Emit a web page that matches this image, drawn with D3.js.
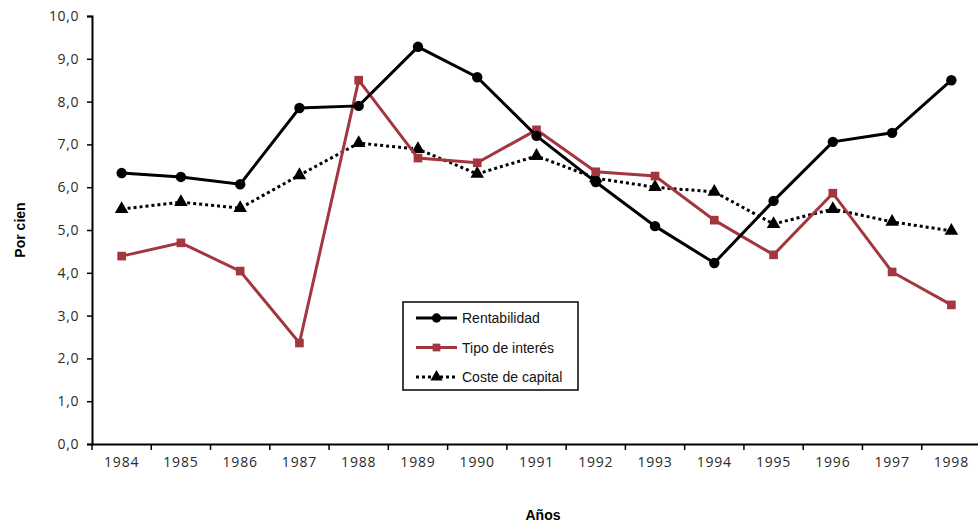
<!DOCTYPE html>
<html>
<head>
<meta charset="utf-8">
<script src="https://cdn.jsdelivr.net/npm/d3@7"></script>
<style>
  body { margin: 0; background: #fff; }
  svg { display: block; }
</style>
</head>
<body>
<div id="chart"></div>
<script>
// data (per cent)
var years = ["1984","1985","1986","1987","1988","1989","1990","1991","1992","1993","1994","1995","1996","1997","1998"];
var rentabilidad = [6.33, 6.24, 6.07, 7.85, 7.9, 9.28, 8.57, 7.2, 6.12, 5.09, 4.23, 5.68, 7.06, 7.27, 8.5];
var tipoInteres  = [4.39, 4.70, 4.04, 2.36, 8.5, 6.68, 6.57, 7.34, 6.36, 6.26, 5.23, 4.42, 5.86, 4.02, 3.25];
var costeCapital = [5.49, 5.65, 5.51, 6.28, 7.03, 6.89, 6.31, 6.73, 6.21, 6.0, 5.89, 5.14, 5.49, 5.19, 4.98];
var yTicks = [0,1,2,3,4,5,6,7,8,9,10];

var W = 978, H = 523;
var mLeft = 92, mTop = 16, plotW = 889, plotH = 428;

var svg = d3.select("#chart").append("svg")
    .attr("width", W).attr("height", H);

var x = d3.scaleBand().domain(years).range([mLeft, mLeft + plotW]);
var y = d3.scaleLinear().domain([0, 10]).range([mTop + plotH, mTop]);

var tickFont = "'Open Sans', Lato, sans-serif";

// y axis
var yAx = svg.append("g")
    .attr("transform", "translate(" + mLeft + ",0)")
    .call(d3.axisLeft(y).tickValues(yTicks).tickSize(5).tickPadding(8)
        .tickFormat(function(d){ return d3.format(".1f")(d).replace(".", ","); }));
yAx.select(".domain").attr("stroke", "#000").attr("stroke-width", 2);
yAx.selectAll(".tick line").attr("stroke", "#000").attr("stroke-width", 1.5);
yAx.selectAll("text").attr("font-family", tickFont).attr("font-size", 14)
    .attr("letter-spacing", 0.6).attr("fill", "#2a2a2a");

// x axis: ticks between categories
var xAx = svg.append("g")
    .attr("transform", "translate(0," + (mTop + plotH) + ")")
    .call(d3.axisBottom(x).tickSize(0).tickPadding(13));
xAx.select(".domain").attr("stroke", "#000").attr("stroke-width", 2);
xAx.selectAll("text").attr("font-family", tickFont).attr("font-size", 14)
    .attr("letter-spacing", 0.8).attr("fill", "#2a2a2a");
xAx.selectAll(".sep").data(years).enter().append("line")
    .attr("x1", function(d){ return x(d); }).attr("x2", function(d){ return x(d); })
    .attr("y1", 0).attr("y2", 6)
    .attr("stroke", "#000").attr("stroke-width", 1.5);

// axis titles
svg.append("text")
    .attr("transform", "translate(25," + (mTop + plotH / 2) + ") rotate(-90)")
    .attr("text-anchor", "middle")
    .attr("font-family", "Arial, 'Liberation Sans', sans-serif")
    .attr("font-weight", "bold").attr("font-size", 14)
    .text("Por cien");
svg.append("text")
    .attr("x", 543).attr("y", 520)
    .attr("text-anchor", "middle")
    .attr("font-family", "Arial, 'Liberation Sans', sans-serif")
    .attr("font-weight", "bold").attr("font-size", 14)
    .text("Años");

var cx = function(i){ return x(years[i]) + x.bandwidth() / 2; };
var line = d3.line().x(function(d, i){ return cx(i); }).y(function(d){ return y(d); });

var red = "#a3363f";
var series = [
  { name: "Rentabilidad", values: rentabilidad, color: "#000", dash: null, marker: d3.symbolCircle, size: 85 },
  { name: "Tipo de interés", values: tipoInteres, color: red, dash: null, marker: d3.symbolSquare, size: 75 },
  { name: "Coste de capital", values: costeCapital, color: "#000", dash: "3,3", marker: d3.symbolTriangle, size: 80 }
];

// draw in order: coste, tipo, rentabilidad on top
[series[2], series[1], series[0]].forEach(function(s){
  svg.append("path").datum(s.values)
      .attr("d", line)
      .attr("fill", "none")
      .attr("stroke", s.color)
      .attr("stroke-width", 3)
      .attr("stroke-dasharray", s.dash);
  svg.selectAll(null).data(s.values).enter().append("path")
      .attr("d", d3.symbol().type(s.marker).size(s.size))
      .attr("transform", function(d, i){ return "translate(" + cx(i) + "," + y(d) + ")"; })
      .attr("fill", s.color);
});

// legend
var lg = svg.append("g").attr("transform", "translate(403,302)");
lg.append("rect").attr("width", 175).attr("height", 88)
    .attr("fill", "#fff").attr("stroke", "#000").attr("stroke-width", 1.5);
series.forEach(function(s, i){
  var ly = 16 + i * 29.5;
  lg.append("line").attr("x1", 13).attr("x2", 54).attr("y1", ly).attr("y2", ly)
      .attr("stroke", s.color).attr("stroke-width", 3).attr("stroke-dasharray", s.dash);
  lg.append("path").attr("d", d3.symbol().type(s.marker).size(s.size * 0.8))
      .attr("transform", "translate(33.5," + ly + ")").attr("fill", s.color);
  lg.append("text").attr("x", 59).attr("y", ly + 5)
      .attr("font-family", "Arial, 'Liberation Sans', sans-serif").attr("font-size", 14)
      .attr("fill", "#111")
      .text(s.name);
});
</script>
</body>
</html>
